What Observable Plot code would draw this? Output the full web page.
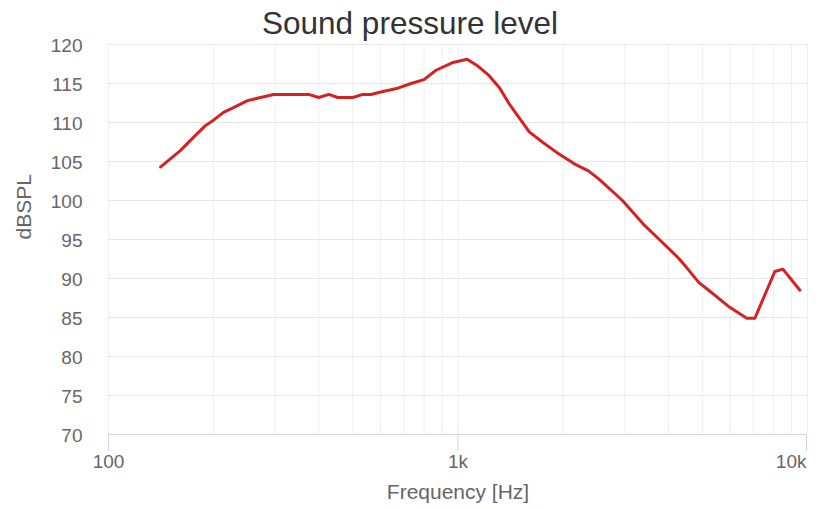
<!DOCTYPE html>
<html>
<head>
<meta charset="utf-8">
<script src="https://cdn.jsdelivr.net/npm/d3@7"></script>
<script src="https://cdn.jsdelivr.net/npm/@observablehq/plot@0.6"></script>
<style>
  html, body { margin: 0; padding: 0; background: #fff; }
  #wrap { position: relative; width: 820px; height: 509px; font-family: "Liberation Sans", Arial, sans-serif; }
  #title { position: absolute; left: 0; top: 0; width: 820px; text-align: center; font-size: 31.5px; line-height: 46px; color: #333; }
</style>
</head>
<body>
<div id="wrap"><div id="title">Sound pressure level</div></div>
<script>
const freq = [141, 160.5, 175, 189.4, 199.7, 213.3, 227.8, 249.9, 272.4, 296.8, 373.9, 399.5, 426.7, 452.9, 500, 534, 563, 614, 673, 734, 799, 865, 968, 1062, 1142, 1228, 1312, 1401, 1497, 1599, 1754, 1911, 2152, 2361, 2522, 2955, 3418, 3749, 4278, 4510, 4883, 5215, 5992, 6704, 7068, 8064, 8503, 9513];
const spl = [104.3, 106.4, 108.1, 109.6, 110.3, 111.3, 111.9, 112.8, 113.2, 113.6, 113.6, 113.2, 113.6, 113.2, 113.2, 113.6, 113.6, 114.0, 114.4, 115.0, 115.5, 116.7, 117.7, 118.1, 117.2, 116.0, 114.5, 112.4, 110.6, 108.8, 107.4, 106.2, 104.7, 103.8, 102.8, 100.0, 96.8, 95.1, 92.6, 91.4, 89.5, 88.5, 86.3, 84.9, 84.9, 90.9, 91.2, 88.5];
const yTicks = [70, 75, 80, 85, 90, 95, 100, 105, 110, 115, 120];
const xGrid = [100, 200, 300, 400, 500, 600, 700, 800, 900, 1000, 2000, 3000, 4000, 5000, 6000, 7000, 8000, 9000, 10000];
const xTicks = [100, 1000];
const xTickLast = [10000];
const fmt = d => d >= 1000 ? (d / 1000) + "k" : String(d);

const data = freq.map((f, i) => ({f, v: spl[i]}));

const chart = Plot.plot({
  width: 820,
  height: 509,
  marginLeft: 108,
  marginRight: 13,
  marginTop: 44,
  marginBottom: 75,
  style: {fontFamily: "'Liberation Sans', Arial, sans-serif", background: "#fff"},
  x: {type: "log", domain: [100, 10000]},
  y: {domain: [70, 120]},
  marks: [
    Plot.gridX(xGrid, {stroke: "#efefef", strokeOpacity: 1}),
    Plot.gridY(yTicks, {stroke: "#e6e6e6", strokeOpacity: 1}),
    Plot.ruleY([70], {stroke: "#ccd6eb"}),
    Plot.axisY(yTicks, {tickSize: 0, tickPadding: 26, fontSize: 19, fill: "#666", dy: 1, label: null}),
    Plot.axisX(xTicks, {tickSize: 17, tickPadding: 3, stroke: "#ccd6eb", fill: "#666", fontSize: 19, tickFormat: fmt, label: null}),
    Plot.axisX(xTickLast, {tickSize: 17, tickPadding: 3, stroke: "#ccd6eb", fill: "#666", fontSize: 19, tickFormat: fmt, textAnchor: "end", dx: -1, label: null}),
    Plot.text(["dBSPL"], {frameAnchor: "left", dx: -84, rotate: -90, fontSize: 21, fill: "#666"}),
    Plot.text(["Frequency [Hz]"], {frameAnchor: "bottom", dy: 64, fontSize: 21, fill: "#666"}),
    Plot.line(data, {x: "f", y: "v", stroke: "#d42222", strokeWidth: 3, strokeLinejoin: "round", strokeLinecap: "round"})
  ]
});
document.getElementById("wrap").appendChild(chart);
</script>
</body>
</html>
